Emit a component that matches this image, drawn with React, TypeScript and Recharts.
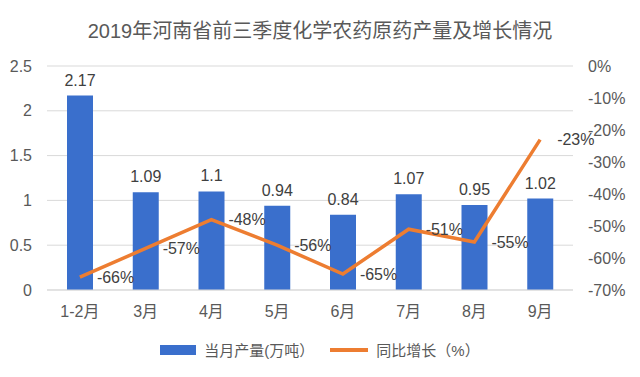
import { ComposedChart, Bar, Line, XAxis, YAxis, CartesianGrid, LabelList } from 'recharts';

const months = ['1-2月', '3月', '4月', '5月', '6月', '7月', '8月', '9月'];
const output = [2.17, 1.09, 1.1, 0.94, 0.84, 1.07, 0.95, 1.02];
const growth = [-66, -57, -48, -56, -65, -51, -55, -23];
const leftTicks = [0, 0.5, 1, 1.5, 2, 2.5];
const rightTicks = [-70, -60, -50, -40, -30, -20, -10, 0];

const data = months.map((m, i) => ({ month: m, output: output[i], growth: growth[i] }));

const FONT = '"Liberation Sans", "Noto Sans CJK SC", sans-serif';
const TEXT = '#595959';
const BLUE = '#3a6fcc';
const ORANGE = '#ed7d31';

export default function App() {
  return (
    <div style={{ position: 'absolute', left: 0, top: 0, width: 640, height: 377, background: '#fff', fontFamily: FONT }}>
      <div style={{ position: 'absolute', top: 15, width: 640, textAlign: 'center', fontSize: 20, color: TEXT }}>
        2019年河南省前三季度化学农药原药产量及增长情况
      </div>
      <ComposedChart width={640} height={377} data={data} margin={{ top: 66, right: 0, bottom: 57, left: 0 }}>
        <CartesianGrid yAxisId="left" vertical={false} stroke="#d9d9d9" />
        <XAxis
          dataKey="month"
          height={30}
          axisLine={{ stroke: '#d9d9d9' }}
          tickLine={false}
          tick={{ fill: TEXT, fontSize: 16, fontFamily: FONT }}
          tickMargin={10}
        />
        <YAxis
          yAxisId="left"
          width={47}
          domain={[0, 2.5]}
          ticks={leftTicks}
          axisLine={false}
          tickLine={false}
          tick={{ fill: TEXT, fontSize: 16, fontFamily: FONT }}
          tickMargin={9}
        />
        <YAxis
          yAxisId="right"
          orientation="right"
          width={67}
          domain={[-70, 0]}
          ticks={rightTicks}
          axisLine={false}
          tickLine={false}
          tickFormatter={(v: number) => `${v}%`}
          tick={{ fill: TEXT, fontSize: 16, fontFamily: FONT }}
          tickMargin={9}
        />
        <Bar yAxisId="left" dataKey="output" fill={BLUE} barSize={26} isAnimationActive={false}>
          <LabelList dataKey="output" position="top" offset={10} fill="#404040" fontSize={16} fontFamily={FONT} />
        </Bar>
        <Line
          yAxisId="right"
          dataKey="growth"
          stroke={ORANGE}
          strokeWidth={3.5}
          dot={false}
          type="linear"
          isAnimationActive={false}
        >
          <LabelList
            dataKey="growth"
            position="right"
            offset={17}
            fill="#404040"
            fontSize={16}
            fontFamily={FONT}
            formatter={(v: number) => `${v}%`}
          />
        </Line>
      </ComposedChart>
      <div
        style={{
          position: 'absolute',
          top: 339,
          width: 640,
          display: 'flex',
          justifyContent: 'center',
          alignItems: 'center',
          fontSize: 15,
          color: TEXT,
          gap: 8,
        }}
      >
        <span style={{ display: 'inline-block', width: 36, height: 10, background: BLUE }} />
        <span>当月产量(万吨）</span>
        <span style={{ display: 'inline-block', width: 38, height: 4, background: ORANGE, marginLeft: 8 }} />
        <span>同比增长（%）</span>
      </div>
    </div>
  );
}
